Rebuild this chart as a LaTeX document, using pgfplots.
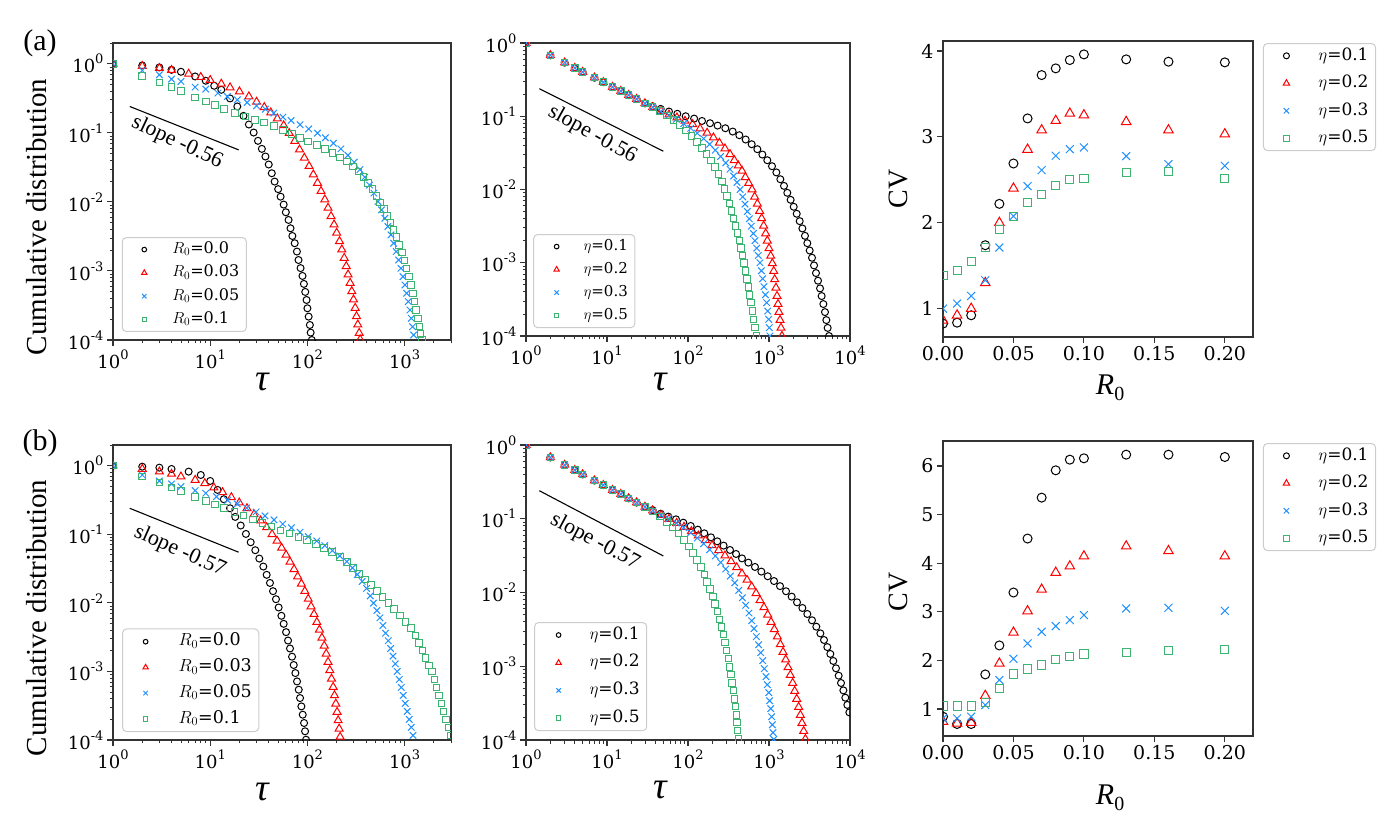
\RequirePackage{fix-cm}
\documentclass[border=0pt]{standalone}
\usepackage{fontspec}
\usepackage{pgfplots}
\pgfplotsset{compat=1.18}
\setmainfont{DejaVu Serif}
\newfontfamily\timesfont{Liberation Serif}
\definecolor{mblue}{RGB}{30,144,255}
\definecolor{mgreen}{RGB}{60,179,113}
\definecolor{mred}{RGB}{255,0,0}
\newcommand{\fs}[1]{\fontsize{#1}{#1}\selectfont}
\newcommand{\dec}[1]{10\raisebox{0.5em}{\fs{13}#1}}

\pgfplotsset{
  panel/.style={
    scale only axis,
    axis line style={black!80, line width=1.1pt},
    tick align=outside, tick pos=left,
    major tick length=6pt, minor tick length=3.5pt,
    every tick/.append style={black!80, line width=1.1pt},
    every minor tick/.append style={line width=0.8pt},
    clip marker paths=true,
    legend cell align=left,
    legend style={draw=black!20, line width=1pt, rounded corners=4pt, fill=white,
      inner xsep=7pt, inner ysep=4pt,
      nodes={inner sep=0pt, text height=12pt, text depth=4pt}},
  },
  % legend image: one reduced marker centred in a box #1 wide
  limg/.style={legend image code/.code={%
      \path[draw=none,fill=none] (0pt,0pt) -- (#1,0pt);
      \draw[##1, every mark/.append style={scale=0.67}] plot coordinates {({0.5*#1},0pt)};}},
  logpanel/.style={panel,
    tick label style={font=\fs{18}},
    ytick={1e-4,1e-3,1e-2,1e-1,1},
    yticklabels={\dec{-4},\dec{-3},\dec{-2},\dec{-1},\dec{0}},
    xlabel={\timesfont\itshape τ}, 
  },
  cvpanel/.style={panel, xmin=0, xmax=0.22,
    xtick={0,0.05,0.1,0.15,0.2}, xticklabels={0.00,0.05,0.10,0.15,0.20},
    tick label style={font=\fs{19}},
    ylabel={\timesfont CV}, ylabel style={font=\fs{28}},
    xlabel={\timesfont\itshape R\raisebox{-0.22em}{\upshape\fs{20}0}},
    xlabel style={font=\fs{30}},
    legend style={at={(axis description cs:1.032,0.993)}, anchor=north west, font=\fs{17},
      column sep=16pt, row sep=11pt, nodes={text height=12.5pt, text depth=4pt}},
    limg=32pt,
  },
  sblack/.style={only marks, mark=o, color=black, mark size=#1, mark options={draw=black, fill=none, solid, line width=1pt, sharp corners}},
  sred/.style={only marks, mark=triangle, color=mred, mark size=#1, mark options={draw=mred, fill=none, solid, line width=1pt, sharp corners}},
  sblue/.style={only marks, mark=x, color=mblue, mark size=#1, mark options={draw=mblue, fill=none, solid, line width=1pt, sharp corners}},
  sgreen/.style={only marks, mark=square, color=mgreen, mark size=#1, mark options={draw=mgreen, fill=none, solid, line width=1pt, sharp corners}},
}

\begin{document}
\begin{tikzpicture}
\useasboundingbox (0pt,0pt) rectangle (1400pt,836pt);
\node[font=\timesfont\fs{30}] at (40pt,793pt) {(a)};
\node[font=\timesfont\fs{30}] at (40pt,393pt) {(b)};

% ---------- (a) left: cumulative distribution for several R0 ----------
\begin{loglogaxis}[logpanel, at={(113pt,496pt)}, anchor=south west, width=338pt, height=297pt,
  xmin=1, xmax=3000, ymin=1e-4, ymax=2,
  xtick={1,10,100,1000}, xticklabels={\dec{0},\dec{1},\dec{2},\dec{3}},
  minor xtick={2,3,4,5,6,7,8,9,20,30,40,50,60,70,80,90,200,300,400,500,600,700,800,900,2000,3000},
  minor ytick={2e-4,3e-4,4e-4,5e-4,6e-4,7e-4,8e-4,9e-4,2e-3,3e-3,4e-3,5e-3,6e-3,7e-3,8e-3,9e-3,0.02,0.03,0.04,0.05,0.06,0.07,0.08,0.09,0.2,0.3,0.4,0.5,0.6,0.7,0.8,0.9,2},
  ylabel={\timesfont Cumulative distribution},
  ylabel style={font=\fs{29}, at={(axis description cs:-0.225,0.414)}, anchor=center},
  xlabel style={font=\fs{38}, at={(axis description cs:0.441,-0.141)}, anchor=center},
  legend style={at={(axis description cs:0.026,0.027)}, anchor=south west, font=\fs{16}, column sep=13pt, row sep=7.3pt},
  limg=30pt]
\addplot[sblack=3.5pt] coordinates {(1,1)(2,0.946)(3,0.885)(4,0.818)(5,0.766)(7,0.655)(9,0.568)(11,0.48)(13,0.42)(16,0.315)(19,0.241)(22,0.176)(25,0.132)(28,0.101)(31,0.0766)(34,0.0586)(37,0.0454)(40,0.0348)(43,0.026)(46,0.0197)(50,0.0153)(53,0.0119)(57,0.00914)(60,0.00708)(64,0.00548)(67,0.00415)(70,0.00321)(74,0.00252)(78,0.00191)(81,0.00144)(85,0.0011)(89,0.000847)(92,0.000649)(95,0.000497)(98,0.00038)(100,0.000288)(103,0.000218)(106,0.000165)(108,0.000128)(111,0.0001)};
\addlegendentry{$R_0$=0.0}
\addplot[sred=4.6pt] coordinates {(1,1)(2,0.925)(3,0.865)(4,0.81)(6,0.716)(8,0.641)(10,0.58)(13,0.513)(16,0.454)(20,0.397)(25,0.336)(30,0.281)(36,0.235)(42,0.197)(49,0.161)(57,0.128)(65,0.0989)(74,0.0757)(83,0.0573)(93,0.0434)(104,0.0329)(115,0.0249)(127,0.0188)(138,0.0143)(151,0.0108)(163,0.00818)(175,0.00619)(188,0.00469)(200,0.00356)(214,0.00269)(226,0.00204)(239,0.00154)(251,0.00117)(262,0.000885)(275,0.00067)(286,0.000507)(298,0.000385)(310,0.000291)(320,0.00022)(330,0.000167)(341,0.000126)(349,0.000102)};
\addlegendentry{$R_0$=0.03}
\addplot[sblue=4.6pt] coordinates {(1,1)(2,0.8)(3,0.693)(4,0.6)(5,0.555)(7,0.459)(9,0.43)(12,0.376)(15,0.336)(19,0.301)(24,0.275)(30,0.246)(37,0.22)(45,0.193)(56,0.169)(68,0.151)(84,0.131)(103,0.114)(127,0.0989)(153,0.0847)(185,0.0708)(221,0.0586)(261,0.0474)(303,0.0376)(347,0.0294)(390,0.0228)(436,0.0175)(483,0.0134)(531,0.0101)(579,0.00766)(627,0.00579)(673,0.0044)(723,0.00333)(771,0.00252)(820,0.00191)(867,0.00144)(916,0.00109)(962,0.000828)(1007,0.000627)(1050,0.000475)(1091,0.00036)(1135,0.000272)(1172,0.000206)(1208,0.000156)(1239,0.000118)};
\addlegendentry{$R_0$=0.05}
\addplot[sgreen=3.3pt] coordinates {(1,1)(2,0.67)(3,0.536)(4,0.459)(5,0.406)(7,0.325)(9,0.284)(11.2,0.252)(13.8,0.22)(18,0.193)(23,0.173)(29,0.154)(36,0.141)(45,0.126)(56,0.11)(69,0.0968)(84,0.0847)(102,0.0748)(125,0.067)(152,0.0586)(182,0.0507)(217,0.0439)(254,0.0385)(293,0.0325)(336,0.0275)(378,0.0228)(422,0.0187)(468,0.0153)(514,0.0122)(561,0.00977)(612,0.00783)(662,0.00627)(718,0.00501)(771,0.00393)(828,0.00308)(881,0.00238)(940,0.00185)(993,0.00141)(1050,0.00108)(1109,0.000828)(1161,0.000627)(1219,0.000474)(1268,0.00036)(1318,0.000272)(1371,0.000206)(1416,0.000156)(1462,0.000121)(1510,0.0001)};
\addlegendentry{$R_0$=0.1}
\addplot[forget plot, black, line width=1.1pt, no marks] coordinates {(1.486,0.241)(19.6,0.0567)};
\node[font=\timesfont\fs{22}, rotate=-25] at (axis cs:4.57,0.0724) {slope -0.56};
\end{loglogaxis}

% ---------- (a) middle: cumulative distribution for several eta ----------
\begin{loglogaxis}[logpanel, at={(526pt,500pt)}, anchor=south west, width=324pt, height=293pt,
  xmin=1, xmax=10000, ymin=1e-4, ymax=1,
  xtick={1,10,100,1000,10000}, xticklabels={\dec{0},\dec{1},\dec{2},\dec{3},\dec{4}},
  minor xtick={2,3,4,5,6,7,8,9,20,30,40,50,60,70,80,90,200,300,400,500,600,700,800,900,2000,3000,4000,5000,6000,7000,8000,9000},
  minor ytick={2e-4,3e-4,4e-4,5e-4,6e-4,7e-4,8e-4,9e-4,2e-3,3e-3,4e-3,5e-3,6e-3,7e-3,8e-3,9e-3,0.02,0.03,0.04,0.05,0.06,0.07,0.08,0.09,0.2,0.3,0.4,0.5,0.6,0.7,0.8,0.9},
  xlabel style={font=\fs{38}, at={(axis description cs:0.414,-0.157)}, anchor=center},
  legend style={at={(axis description cs:0.022,0.027)}, anchor=south west, font=\fs{15}, column sep=11pt, row sep=7pt},
  limg=32pt]
\addplot[sblack=3.5pt] coordinates {(1,1)(2,0.679)(3,0.54)(4,0.456)(5,0.402)(7,0.336)(9,0.292)(11.7,0.251)(14.8,0.221)(18.5,0.195)(23.2,0.172)(29.4,0.150)(36.6,0.137)(46,0.126)(58.2,0.116)(73.8,0.108)(93.6,0.1)(119,0.0929)(149,0.0863)(187,0.0803)(232,0.0746)(289,0.0686)(356,0.0618)(430,0.0551)(515,0.0481)(611,0.0415)(718,0.0355)(828,0.030)(953,0.0251)(1089,0.0208)(1233,0.0171)(1380,0.0138)(1531,0.0112)(1683,0.00901)(1850,0.00723)(2018,0.00581)(2198,0.00466)(2393,0.0037)(2582,0.00294)(2780,0.00233)(2972,0.00185)(3177,0.00147)(3396,0.00117)(3597,0.00092)(3802,0.000723)(4027,0.000569)(4266,0.000447)(4467,0.000351)(4688,0.000273)(4909,0.000212)(5105,0.000165)(5297,0.000129)(5508,0.0001)};
\addlegendentry{$\eta$=0.1}
\addplot[sred=4.6pt] coordinates {(1,1)(2,0.679)(3,0.54)(4,0.456)(5,0.402)(7,0.336)(9,0.292)(11.7,0.251)(14.8,0.221)(18.5,0.195)(23.2,0.172)(29.4,0.150)(36.6,0.133)(46.5,0.117)(58.2,0.105)(73.1,0.0959)(91.8,0.0863)(114,0.0778)(141,0.0679)(172,0.0593)(206,0.0512)(244,0.0433)(286,0.0362)(330,0.0303)(373,0.0251)(418,0.0212)(464,0.018)(510,0.0147)(561,0.0122)(617,0.01)(665,0.00794)(718,0.00638)(767,0.00507)(811,0.00403)(859,0.0032)(910,0.00251)(953,0.002)(1000,0.00157)(1050,0.00124)(1099,0.00098)(1143,0.000769)(1175,0.000593)(1219,0.000456)(1256,0.000351)(1291,0.000273)(1327,0.000212)(1368,0.000165)(1406,0.000129)(1445,0.0001)};
\addlegendentry{$\eta$=0.2}
\addplot[sblue=4.6pt] coordinates {(1,1)(2,0.679)(3,0.54)(4,0.456)(5,0.402)(7,0.336)(9,0.292)(11.7,0.251)(14.8,0.221)(18.5,0.195)(23.2,0.172)(29.4,0.150)(36.6,0.133)(46,0.116)(57.7,0.103)(71.8,0.091)(88.5,0.0794)(108,0.0686)(130,0.0586)(156,0.0495)(185,0.0415)(217,0.0344)(253,0.0282)(292,0.0231)(330,0.0189)(366,0.0153)(403,0.0125)(439,0.01)(473,0.00794)(506,0.00631)(541,0.00501)(572,0.00398)(605,0.00316)(641,0.00251)(671,0.002)(705,0.00158)(738,0.00126)(774,0.001)(804,0.000778)(836,0.000605)(867,0.000471)(902,0.000366)(935,0.000285)(964,0.000219)(991,0.000169)(1009,0.00013)(1028,0.0001)};
\addlegendentry{$\eta$=0.3}
\addplot[sgreen=3.3pt] coordinates {(1,1)(2,0.679)(3,0.54)(4,0.456)(5,0.402)(7,0.336)(9,0.292)(11.7,0.251)(14.8,0.221)(18.5,0.195)(23.2,0.172)(29.4,0.150)(36.6,0.133)(45.1,0.117)(55.1,0.102)(66.5,0.0881)(79.6,0.0753)(94.5,0.0638)(111,0.0533)(129,0.0447)(149,0.037)(170,0.0303)(192,0.0248)(215,0.0202)(239,0.0162)(261,0.0129)(281,0.0102)(303,0.00811)(324,0.00644)(346,0.00512)(366,0.00403)(387,0.0032)(410,0.00254)(430,0.00202)(451,0.0016)(473,0.00126)(495,0.001)(515,0.000778)(535,0.000605)(556,0.000471)(577,0.000366)(600,0.000285)(622,0.000219)(647,0.000169)(671,0.00013)(698,0.0001)};
\addlegendentry{$\eta$=0.5}
\addplot[forget plot, black, line width=1.1pt, no marks] coordinates {(1.46,0.238)(49.6,0.0333)};
\node[font=\timesfont\fs{22}, rotate=-29] at (axis cs:6.59,0.0562) {slope -0.56};
\end{loglogaxis}

% ---------- (a) right: CV against R0 ----------
\begin{axis}[cvpanel, at={(943pt,499pt)}, anchor=south west, width=310pt, height=296pt,
  ymin=0.669, ymax=4.117, ytick={1,2,3,4}, yticklabels={1,2,3,4},
  ylabel style={at={(axis description cs:-0.145,0.5)}, anchor=center},
  xlabel style={at={(axis description cs:0.539,-0.172)}, anchor=center}]
\addplot[sblack=4.5pt] coordinates {(0,0.825)(0.01,0.836)(0.02,0.922)(0.03,1.738)(0.04,2.22)(0.05,2.69)(0.06,3.215)(0.07,3.72)(0.08,3.798)(0.09,3.895)(0.10,3.961)(0.13,3.903)(0.16,3.876)(0.20,3.868)};
\addlegendentry{$\eta$=0.1}
\addplot[sred=5.5pt] coordinates {(0,0.864)(0.01,0.922)(0.02,1.0)(0.03,1.30)(0.04,2.0)(0.05,2.40)(0.06,2.853)(0.07,3.079)(0.08,3.188)(0.09,3.273)(0.10,3.254)(0.13,3.176)(0.16,3.079)(0.20,3.032)};
\addlegendentry{$\eta$=0.2}
\addplot[sblue=5.6pt] coordinates {(0,1.0)(0.01,1.058)(0.02,1.147)(0.03,1.33)(0.04,1.711)(0.05,2.076)(0.06,2.426)(0.07,2.613)(0.08,2.78)(0.09,2.857)(0.10,2.877)(0.13,2.776)(0.16,2.682)(0.20,2.663)};
\addlegendentry{$\eta$=0.3}
\addplot[sgreen=4.1pt] coordinates {(0,1.381)(0.01,1.439)(0.02,1.544)(0.03,1.711)(0.04,1.921)(0.05,2.068)(0.06,2.232)(0.07,2.329)(0.08,2.43)(0.09,2.504)(0.10,2.515)(0.13,2.585)(0.16,2.597)(0.20,2.515)};
\addlegendentry{$\eta$=0.5}
\end{axis}

% ---------- (b) left ----------
\begin{loglogaxis}[logpanel, at={(113pt,96pt)}, anchor=south west, width=338pt, height=295pt,
  xmin=1, xmax=3000, ymin=1e-4, ymax=2,
  xtick={1,10,100,1000}, xticklabels={\dec{0},\dec{1},\dec{2},\dec{3}},
  minor xtick={2,3,4,5,6,7,8,9,20,30,40,50,60,70,80,90,200,300,400,500,600,700,800,900,2000,3000},
  minor ytick={2e-4,3e-4,4e-4,5e-4,6e-4,7e-4,8e-4,9e-4,2e-3,3e-3,4e-3,5e-3,6e-3,7e-3,8e-3,9e-3,0.02,0.03,0.04,0.05,0.06,0.07,0.08,0.09,0.2,0.3,0.4,0.5,0.6,0.7,0.8,0.9,2},
  ylabel={\timesfont Cumulative distribution},
  ylabel style={font=\fs{29}, at={(axis description cs:-0.225,0.414)}, anchor=center},
  xlabel style={font=\fs{38}, at={(axis description cs:0.441,-0.176)}, anchor=center},
  legend style={at={(axis description cs:0.027,0.027)}, anchor=south west, font=\fs{17.5}, column sep=17pt, row sep=8.2pt, nodes={text height=13pt, text depth=4.5pt}},
  limg=32pt]
\addplot[sblack=3.5pt] coordinates {(1,1)(2,0.966)(3,0.935)(4,0.894)(6,0.818)(8,0.731)(10,0.598)(11.9,0.443)(13.8,0.324)(16,0.239)(18.1,0.179)(20.6,0.134)(23.3,0.101)(26.1,0.0764)(29.1,0.0585)(32,0.0442)(35.2,0.0338)(38.1,0.0256)(41.2,0.0195)(44.3,0.0148)(47.5,0.0113)(50.6,0.00855)(54,0.00647)(57,0.00494)(60.3,0.00374)(63.2,0.00282)(66.2,0.00216)(69.5,0.00164)(72.3,0.00124)(75.2,0.000946)(78.2,0.000715)(81.4,0.000541)(84,0.000409)(86.7,0.000309)(89.5,0.000234)(92.4,0.000177)(94.6,0.000134)(96.8,0.000101)};
\addlegendentry{$R_0$=0.0}
\addplot[sred=4.6pt] coordinates {(1,1)(2,0.894)(3,0.818)(4,0.757)(5,0.692)(7,0.618)(8.8,0.553)(10.9,0.479)(13.4,0.409)(16.5,0.346)(19.9,0.289)(23.9,0.239)(28.2,0.195)(33,0.158)(38.1,0.126)(43.3,0.1)(48.7,0.08)(54.3,0.0632)(60.3,0.05)(66.2,0.0395)(72.9,0.0309)(79.4,0.0242)(86.7,0.0189)(94,0.0148)(102,0.0114)(109,0.00885)(117,0.00684)(125,0.00523)(133,0.00405)(141,0.00309)(149,0.00237)(156,0.00181)(163,0.00137)(170,0.00104)(177,0.000782)(184,0.000592)(190,0.000447)(196,0.000338)(202,0.000256)(207,0.000193)(212,0.000146)(217,0.000111)};
\addlegendentry{$R_0$=0.03}
\addplot[sblue=4.6pt] coordinates {(1,1)(2,0.731)(3,0.598)(4,0.541)(5,0.494)(7,0.433)(9,0.396)(11.6,0.354)(15.1,0.313)(19,0.277)(23.7,0.242)(29.6,0.211)(36.6,0.185)(45.3,0.162)(55.7,0.141)(68.4,0.124)(84,0.107)(102,0.0925)(125,0.08)(151,0.0684)(181,0.0578)(215,0.0483)(254,0.04)(291,0.0324)(327,0.0259)(366,0.0205)(406,0.0162)(443,0.0126)(479,0.00989)(519,0.00773)(557,0.00605)(598,0.00468)(637,0.00361)(679,0.0028)(718,0.00216)(759,0.00167)(802,0.00129)(839,0.001)(881,0.000764)(925,0.000585)(968,0.000447)(1016,0.000342)(1064,0.000261)(1117,0.0002)(1172,0.000153)(1219,0.000117)};
\addlegendentry{$R_0$=0.05}
\addplot[sgreen=3.3pt] coordinates {(1,1)(2,0.692)(3,0.565)(4,0.479)(5,0.423)(7,0.346)(9,0.303)(11.2,0.27)(13.9,0.242)(17.7,0.211)(22.1,0.187)(27.5,0.165)(34.4,0.146)(42.6,0.129)(52.7,0.114)(65.2,0.102)(80.7,0.0914)(99.3,0.0818)(122,0.0723)(149,0.0632)(179,0.0547)(215,0.0468)(256,0.0395)(296,0.0324)(341,0.0264)(394,0.0219)(450,0.0181)(519,0.0148)(593,0.0122)(684,0.01)(782,0.00809)(895,0.00655)(1023,0.00528)(1161,0.00433)(1297,0.00334)(1406,0.00259)(1521,0.00202)(1644,0.00158)(1782,0.00122)(1914,0.001)(2023,0.000764)(2138,0.000585)(2259,0.000447)(2388,0.000342)(2523,0.000261)(2667,0.0002)(2818,0.000153)(2979,0.000117)};
\addlegendentry{$R_0$=0.1}
\addplot[forget plot, black, line width=1.1pt, no marks] coordinates {(1.486,0.239)(19.6,0.0547)};
\node[font=\timesfont\fs{22}, rotate=-24] at (axis cs:4.87,0.056) {slope -0.57};
\end{loglogaxis}

% ---------- (b) middle ----------
\begin{loglogaxis}[logpanel, at={(526pt,96pt)}, anchor=south west, width=324pt, height=295pt,
  xmin=1, xmax=10000, ymin=1e-4, ymax=1,
  xtick={1,10,100,1000,10000}, xticklabels={\dec{0},\dec{1},\dec{2},\dec{3},\dec{4}},
  minor xtick={2,3,4,5,6,7,8,9,20,30,40,50,60,70,80,90,200,300,400,500,600,700,800,900,2000,3000,4000,5000,6000,7000,8000,9000},
  minor ytick={2e-4,3e-4,4e-4,5e-4,6e-4,7e-4,8e-4,9e-4,2e-3,3e-3,4e-3,5e-3,6e-3,7e-3,8e-3,9e-3,0.02,0.03,0.04,0.05,0.06,0.07,0.08,0.09,0.2,0.3,0.4,0.5,0.6,0.7,0.8,0.9},
  xlabel style={font=\fs{38}, at={(axis description cs:0.414,-0.169)}, anchor=center},
  legend style={at={(axis description cs:0.025,0.03)}, anchor=south west, font=\fs{17}, column sep=14pt, row sep=10.7pt, nodes={text height=12.5pt, text depth=4.5pt}},
  limg=34pt]
\addplot[sblack=3.5pt] coordinates {(1,1)(2,0.678)(3,0.537)(4,0.457)(5,0.399)(7,0.33)(9,0.286)(11.7,0.245)(14.8,0.216)(18.5,0.189)(23.2,0.166)(29.4,0.145)(36.6,0.131)(46,0.117)(57.2,0.107)(71.1,0.0982)(87.5,0.0885)(108,0.0798)(132,0.0711)(159,0.0634)(192,0.056)(230,0.0494)(275,0.0432)(330,0.0377)(392,0.0333)(464,0.029)(556,0.0254)(671,0.0222)(804,0.0192)(964,0.0166)(1153,0.0143)(1368,0.0122)(1622,0.0104)(1905,0.00879)(2218,0.00736)(2582,0.00617)(2972,0.00511)(3396,0.0042)(3837,0.00344)(4305,0.00279)(4775,0.00227)(5248,0.00182)(5715,0.00147)(6223,0.00118)(6714,0.000938)(7244,0.000745)(7745,0.000593)(8279,0.000471)(8750,0.000375)(9268,0.000299)(9817,0.000237)};
\addlegendentry{$\eta$=0.1}
\addplot[sred=4.6pt] coordinates {(1,1)(2,0.678)(3,0.537)(4,0.457)(5,0.399)(7,0.33)(9,0.286)(11.7,0.245)(14.8,0.216)(18.5,0.189)(23.2,0.166)(29.4,0.145)(36.6,0.129)(46.5,0.112)(58.2,0.0993)(72.5,0.0875)(89.3,0.0773)(110,0.0675)(134,0.059)(164,0.0509)(198,0.0436)(239,0.0373)(286,0.0316)(340,0.0264)(399,0.0219)(464,0.018)(535,0.0148)(611,0.012)(692,0.00975)(774,0.00783)(867,0.00629)(964,0.005)(1059,0.00398)(1164,0.00317)(1268,0.00252)(1380,0.00198)(1489,0.00156)(1607,0.00123)(1718,0.000966)(1832,0.00076)(1959,0.000593)(2075,0.000461)(2198,0.00036)(2323,0.00028)(2438,0.000218)(2553,0.00017)(2679,0.000132)(2812,0.000103)};
\addlegendentry{$\eta$=0.2}
\addplot[sblue=4.6pt] coordinates {(1,1)(2,0.678)(3,0.537)(4,0.457)(5,0.399)(7,0.33)(9,0.286)(11.7,0.245)(14.8,0.216)(18.5,0.189)(23.2,0.166)(29.4,0.145)(36.6,0.129)(46.5,0.112)(57.7,0.1)(71.8,0.0875)(88.5,0.0757)(108,0.0647)(130,0.0548)(156,0.0459)(185,0.0381)(217,0.0313)(253,0.0256)(292,0.0208)(333,0.0167)(377,0.0135)(423,0.0107)(469,0.00851)(515,0.0067)(566,0.00527)(611,0.00415)(653,0.00324)(698,0.00252)(745,0.00196)(789,0.00153)(836,0.00119)(875,0.000927)(918,0.000723)(953,0.000562)(991,0.000439)(1019,0.000341)(1050,0.000266)(1079,0.000207)(1099,0.000161)(1119,0.000126)(1143,0.000102)};
\addlegendentry{$\eta$=0.3}
\addplot[sgreen=3.3pt] coordinates {(1,1)(2,0.678)(3,0.537)(4,0.457)(5,0.399)(7,0.33)(9,0.286)(11.7,0.245)(14.8,0.216)(18.5,0.189)(23.2,0.166)(29.4,0.145)(36.6,0.126)(45.1,0.107)(54.6,0.0904)(64.7,0.0757)(76,0.0628)(88.5,0.0515)(102,0.0423)(116,0.0344)(130,0.0276)(145,0.0222)(159,0.0176)(173,0.014)(187,0.0111)(202,0.00887)(215,0.00698)(230,0.0055)(244,0.00433)(258,0.0034)(273,0.00268)(286,0.00209)(300,0.00163)(315,0.00127)(327,0.000986)(340,0.000769)(352,0.000598)(363,0.000467)(373,0.000363)(384,0.000283)(395,0.00022)(403,0.000172)(410,0.000134)(418,0.000104)};
\addlegendentry{$\eta$=0.5}
\addplot[forget plot, black, line width=1.1pt, no marks] coordinates {(1.46,0.240)(49.6,0.0313)};
\node[font=\timesfont\fs{22}, rotate=-28] at (axis cs:7.11,0.0489) {slope -0.57};
\end{loglogaxis}

% ---------- (b) right ----------
\begin{axis}[cvpanel, at={(943pt,100pt)}, anchor=south west, width=310pt, height=295pt,
  ymin=0.445, ymax=6.514, ytick={1,2,3,4,5,6}, yticklabels={1,2,3,4,5,6},
  ylabel style={at={(axis description cs:-0.145,0.488)}, anchor=center},
  xlabel style={at={(axis description cs:0.539,-0.21)}, anchor=center}]
\addplot[sblack=4.5pt] coordinates {(0,0.842)(0.01,0.692)(0.02,0.692)(0.03,1.712)(0.04,2.308)(0.05,3.397)(0.06,4.507)(0.07,5.349)(0.08,5.911)(0.09,6.13)(0.10,6.158)(0.13,6.233)(0.16,6.233)(0.20,6.185)};
\addlegendentry{$\eta$=0.1}
\addplot[sred=5.5pt] coordinates {(0,0.74)(0.01,0.705)(0.02,0.719)(0.03,1.274)(0.04,1.938)(0.05,2.575)(0.06,3.014)(0.07,3.459)(0.08,3.808)(0.09,3.938)(0.10,4.144)(0.13,4.349)(0.16,4.253)(0.20,4.144)};
\addlegendentry{$\eta$=0.2}
\addplot[sblue=5.6pt] coordinates {(0,0.808)(0.01,0.808)(0.02,0.842)(0.03,1.082)(0.04,1.596)(0.05,2.034)(0.06,2.349)(0.07,2.589)(0.08,2.705)(0.09,2.829)(0.10,2.932)(0.13,3.068)(0.16,3.082)(0.20,3.021)};
\addlegendentry{$\eta$=0.3}
\addplot[sgreen=4.1pt] coordinates {(0,1.062)(0.01,1.062)(0.02,1.062)(0.03,1.13)(0.04,1.418)(0.05,1.719)(0.06,1.822)(0.07,1.904)(0.08,2.021)(0.09,2.075)(0.10,2.13)(0.13,2.164)(0.16,2.199)(0.20,2.226)};
\addlegendentry{$\eta$=0.5}
\end{axis}
\end{tikzpicture}
\end{document}
